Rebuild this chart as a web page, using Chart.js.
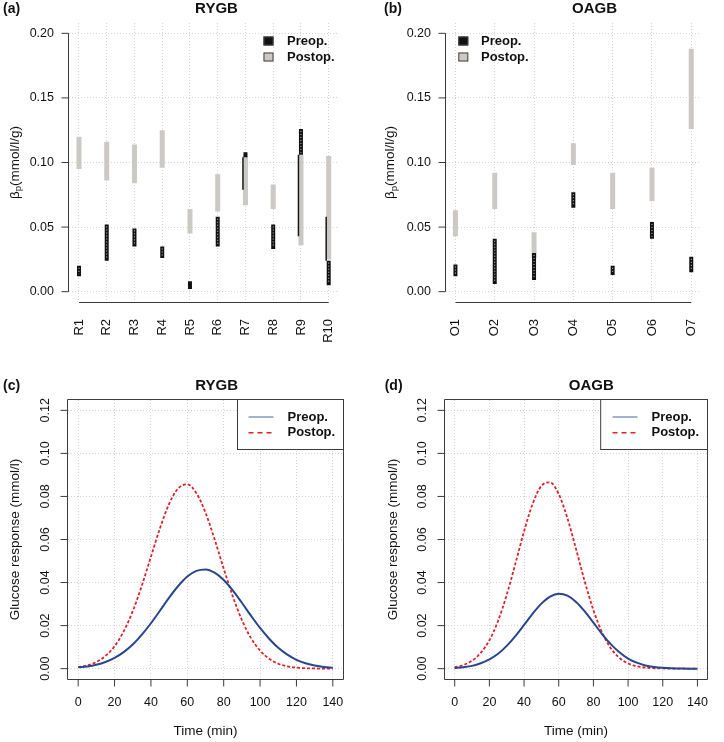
<!DOCTYPE html>
<html lang="en">
<head>
<meta charset="UTF-8">
<title>Beta-p and glucose response: RYGB vs OAGB</title>
<script src="https://cdn.jsdelivr.net/npm/chart.js"></script>
<style>
  body { margin: 0; background: #fff; }
  #wrap { position: relative; width: 724px; height: 742px; }
  #wrap canvas { position: absolute; }
</style>
</head>
<body>
<div id="wrap">
  <canvas id="chartA" width="362" height="370" style="left:0;top:0"></canvas>
  <canvas id="chartB" width="362" height="370" style="left:362px;top:0"></canvas>
  <canvas id="chartC" width="362" height="372" style="left:0;top:370px"></canvas>
  <canvas id="chartD" width="362" height="372" style="left:362px;top:370px"></canvas>
</div>
<script>
// ---- data ----
const rygbPatients = ['R1', 'R2', 'R3', 'R4', 'R5', 'R6', 'R7', 'R8', 'R9', 'R10'];
const oagbPatients = ['O1', 'O2', 'O3', 'O4', 'O5', 'O6', 'O7'];

// beta_p ranges, [low, high] in mmol/l/g
const rygbPreop = [[0.012, 0.020], [0.024, 0.052], [0.035, 0.049], [0.026, 0.035], [0.002, 0.008],
                   [0.035, 0.058], [0.104, 0.108], [0.033, 0.052], [0.106, 0.126], [0.005, 0.024]];
// thin part of the preop range (only a few patients)
const rygbPreopTail = [null, null, null, null, null, null, [0.079, 0.104], null, [0.043, 0.106], [0.024, 0.058]];
const rygbPostop = [[0.095, 0.120], [0.086, 0.116], [0.084, 0.114], [0.096, 0.125], [0.045, 0.064],
                    [0.062, 0.091], [0.067, 0.105], [0.064, 0.083], [0.036, 0.106], [0.025, 0.105]];

const oagbPreop = [[0.012, 0.021], [0.006, 0.041], [0.009, 0.030], [0.065, 0.077], [0.013, 0.020],
                   [0.041, 0.054], [0.015, 0.027]];
const oagbPreopTail = [null, null, null, null, null, null, null];
const oagbPostop = [[0.043, 0.063], [0.064, 0.092], [0.026, 0.046], [0.098, 0.115], [0.064, 0.092],
                    [0.070, 0.096], [0.126, 0.188]];

const betaTicks = [0, 0.05, 0.10, 0.15, 0.20];

// glucose response curves (mmol/l), every 5 min
const timeMin = [0, 5, 10, 15, 20, 25, 30, 35, 40, 45, 50, 55, 60, 65, 70, 75, 80, 85, 90, 95, 100,
                 105, 110, 115, 120, 125, 130, 135, 140];
const rygbGlucPreop = [0.0006, 0.0010, 0.0018, 0.0031, 0.0050, 0.0077, 0.0112, 0.0158, 0.0211, 0.0270,
                       0.0330, 0.0384, 0.0428, 0.0454, 0.0461, 0.0446, 0.0412, 0.0364, 0.0306, 0.0246,
                       0.0189, 0.0139, 0.0097, 0.0065, 0.0041, 0.0025, 0.0015, 0.0008, 0.0004];
const rygbGlucPostop = [0.0007, 0.0015, 0.0031, 0.0059, 0.0104, 0.0173, 0.0267, 0.0386, 0.0520, 0.0653,
                        0.0766, 0.0838, 0.0856, 0.0815, 0.0725, 0.0601, 0.0465, 0.0336, 0.0226, 0.0142,
                        0.0084, 0.0046, 0.0023, 0.0011, 0.0005, 0.0002, 0.0001, 0.0000, 0.0000];
const oagbGlucPreop = [0.0003, 0.0007, 0.0013, 0.0025, 0.0043, 0.0069, 0.0106, 0.0151, 0.0203, 0.0256,
                       0.0302, 0.0335, 0.0348, 0.0339, 0.0310, 0.0266, 0.0214, 0.0161, 0.0114, 0.0076,
                       0.0047, 0.0028, 0.0015, 0.0008, 0.0004, 0.0002, 0.0001, 0.0000, 0.0000];
const oagbGlucPostop = [0.0007, 0.0017, 0.0037, 0.0073, 0.0132, 0.0222, 0.0343, 0.0488, 0.0638, 0.0767,
                        0.0849, 0.0865, 0.0811, 0.0699, 0.0555, 0.0405, 0.0272, 0.0168, 0.0095, 0.0050,
                        0.0024, 0.0011, 0.0005, 0.0002, 0.0001, 0.0000, 0.0000, 0.0000, 0.0000];

const glucTicks = [0, 0.02, 0.04, 0.06, 0.08, 0.10, 0.12];
const timeTicks = [0, 20, 40, 60, 80, 100, 120, 140];

// ---- style ----
const FONT = '"Liberation Sans", Arial, Helvetica, sans-serif';
const GRID = '#d4d4d4';
const AXIS = '#3c3c3c';
const INK = '#111';

Chart.defaults.font.family = FONT;
Chart.defaults.color = INK;
Chart.defaults.animation = false;

// draws the R-like axes, titles, legends
const rStyle = {
    id: 'rStyle',
    beforeDatasetDraw(chart, args) {
        const ds = chart.data.datasets[args.index];
        if (ds.shift) { chart.ctx.save(); chart.ctx.translate(ds.shift, 0); }
    },
    afterDatasetDraw(chart, args) {
        const ctx = chart.ctx;
        const ds = chart.data.datasets[args.index];
        if (ds.shift) ctx.restore();
        if (ds.dotted) {
            ctx.save();
            ctx.strokeStyle = 'rgba(255,255,255,0.8)';
            ctx.lineWidth = 1;
            ctx.setLineDash([1, 2]);
            args.meta.data.forEach(el => {
                const p = el.getProps(['x', 'y', 'base'], true);
                const top = Math.min(p.y, p.base), bot = Math.max(p.y, p.base);
                if (bot - top < 9) return;
                ctx.beginPath();
                ctx.moveTo(p.x, top + 2);
                ctx.lineTo(p.x, bot - 2);
                ctx.stroke();
            });
            ctx.restore();
        }
    },
    afterDraw(chart, args, o) {
        const ctx = chart.ctx, a = chart.chartArea;
        const xs = chart.scales.x, ys = chart.scales.y;
        const yT = ys.ticks.map(t => ys.getPixelForValue(t.value));
        const xT = xs.ticks.map(t => xs.getPixelForValue(t.value));
        const L = Math.round(a.left) - 0.5, B = Math.round(a.bottom) + 0.5;
        const R = Math.round(a.right) + 0.5, T = Math.round(a.top) - 0.5;

        ctx.save();
        ctx.strokeStyle = AXIS;
        ctx.lineWidth = 1;
        ctx.setLineDash([]);
        ctx.beginPath();
        if (o.frame === 'box') {
            ctx.rect(L, T, R - L, B - T);
            xT.forEach(px => { ctx.moveTo(px, B); ctx.lineTo(px, B + 7); });
        } else {
            ctx.moveTo(L, Math.min(...yT)); ctx.lineTo(L, Math.max(...yT));
            ctx.moveTo(Math.min(...xT), B); ctx.lineTo(Math.max(...xT), B);
        }
        yT.forEach(py => { ctx.moveTo(L - 7, py); ctx.lineTo(L, py); });
        ctx.stroke();

        ctx.fillStyle = INK;
        // rotated y tick labels
        if (o.rotY) {
            ctx.font = '12.5px ' + FONT;
            ctx.textAlign = 'center';
            ctx.textBaseline = 'middle';
            ys.ticks.forEach((t, i) => {
                ctx.save();
                ctx.translate(a.left - o.rotY, yT[i]);
                ctx.rotate(-Math.PI / 2);
                ctx.fillText(t.value.toFixed(2), 0, 0);
                ctx.restore();
            });
        }

        // y axis title
        const cy = (Math.min(...yT) + Math.max(...yT)) / 2;
        ctx.save();
        ctx.translate(o.yTitleX, o.yTitleY !== undefined ? o.yTitleY : cy);
        ctx.rotate(-Math.PI / 2);
        ctx.textBaseline = 'middle';
        const f1 = '13.5px ' + FONT, f2 = '9.5px ' + FONT;
        if (o.yTitle === 'beta') {
            ctx.font = f1;
            const wb = ctx.measureText('β').width, wr = ctx.measureText('(mmol/l/g)').width;
            ctx.font = f2;
            const wp = ctx.measureText('p').width;
            let x0 = -(wb + wp + wr) / 2;
            ctx.textAlign = 'left';
            ctx.font = f1; ctx.fillText('β', x0, 0);
            ctx.font = f2; ctx.fillText('p', x0 + wb, 3.5);
            ctx.font = f1; ctx.fillText('(mmol/l/g)', x0 + wb + wp, 0);
        } else {
            ctx.font = f1;
            ctx.textAlign = 'center';
            ctx.fillText(o.yTitle, 0, 0);
        }
        ctx.restore();

        // x axis title
        if (o.xTitle) {
            ctx.font = f1;
            ctx.textAlign = 'center';
            ctx.textBaseline = 'middle';
            ctx.fillText(o.xTitle, (a.left + a.right) / 2, o.xTitleY);
        }

        // panel letter + title
        ctx.font = 'bold 14px ' + FONT;
        ctx.textAlign = 'left';
        ctx.textBaseline = 'middle';
        ctx.fillText(o.letter, o.letterX, o.titleY);
        ctx.font = 'bold 15px ' + FONT;
        ctx.textAlign = 'center';
        ctx.fillText(o.title, o.titleX, o.titleY);

        // legend
        const lg = o.legend;
        const items = chart.data.datasets.filter(d => d.inLegend !== false);
        ctx.font = 'bold 13px ' + FONT;
        ctx.textAlign = 'left';
        ctx.textBaseline = 'middle';
        if (lg.type === 'box') {
            items.forEach((d, i) => {
                const y = lg.y + i * lg.dy;
                ctx.fillStyle = d.backgroundColor;
                ctx.fillRect(lg.x - 5, y - 4.5, 10, 9);
                ctx.strokeStyle = '#444';
                ctx.strokeRect(lg.x - 5 + 0.5, y - 4.5 + 0.5, 9, 8);
                ctx.fillStyle = INK;
                ctx.fillText(d.label, lg.textX, y);
            });
        } else {
            const x0 = R - lg.w, y0 = T;
            ctx.strokeStyle = AXIS;
            ctx.lineWidth = 1;
            ctx.setLineDash([]);
            ctx.fillStyle = '#fff';
            ctx.fillRect(x0, y0, lg.w, lg.h);
            ctx.strokeRect(x0, y0, lg.w, lg.h);
            items.forEach((d, i) => {
                const y = y0 + 17.5 + i * 15.7;
                ctx.strokeStyle = d.borderColor;
                ctx.globalAlpha = d.borderDash ? 1 : 0.55;
                ctx.lineWidth = 1.5;
                ctx.setLineDash(d.borderDash ? [5, 4] : []);
                ctx.beginPath();
                ctx.moveTo(R - 95, y); ctx.lineTo(R - 70, y);
                ctx.stroke();
                ctx.globalAlpha = 1;
                ctx.fillStyle = INK;
                ctx.fillText(d.label, R - 56, y);
            });
        }
        ctx.restore();
    }
};

function gridOpts() {
    return { color: GRID, lineWidth: 1, drawTicks: false, offset: false };
}

function rangeChart(id, cats, preop, tail, postop, yWidth, rightPad, style) {
    const n = cats.length, pad = 0.04 * (n - 1);
    const toPts = arr => arr.map((r, i) => r ? { x: i + 1, y: r } : null).filter(Boolean);
    new Chart(document.getElementById(id), {
        type: 'bar',
        data: {
            datasets: [
                { label: 'Preop.', data: toPts(preop), backgroundColor: '#111111', maxBarThickness: 4, dotted: true },
                { label: 'Preop.', data: toPts(tail), backgroundColor: '#1a1a1a', maxBarThickness: 1.5, shift: -2.5, inLegend: false },
                { label: 'Postop.', data: toPts(postop), backgroundColor: '#ccc8c3', maxBarThickness: 5 }
            ]
        },
        options: {
            responsive: false,
            layout: { padding: { left: 0, top: 23, right: rightPad, bottom: 0 } },
            datasets: { bar: { grouped: false, borderSkipped: false } },
            plugins: { legend: { display: false }, tooltip: { enabled: false }, rStyle: style },
            scales: {
                x: {
                    type: 'linear', min: 1 - pad, max: n + pad, offset: false,
                    afterBuildTicks: s => { s.ticks = cats.map((c, i) => ({ value: i + 1 })); },
                    afterFit: s => { s.height = 68; },
                    ticks: {
                        callback: v => cats[v - 1], autoSkip: false,
                        minRotation: 90, maxRotation: 90, padding: 17,
                        font: { size: 13 }, color: INK
                    },
                    grid: gridOpts(),
                    border: { display: false, dash: [1, 2] }
                },
                y: {
                    min: -0.008, max: 0.208,
                    afterBuildTicks: s => { s.ticks = betaTicks.map(v => ({ value: v })); },
                    afterFit: s => { s.width = yWidth; },
                    ticks: { callback: v => v.toFixed(2), padding: 15, font: { size: 12.5 }, color: INK },
                    grid: gridOpts(),
                    border: { display: false, dash: [1, 2] }
                }
            }
        },
        plugins: [rStyle]
    });
}

function curveChart(id, preop, postop, yWidth, rightPad, style) {
    const pts = arr => timeMin.map((t, i) => ({ x: t, y: arr[i] }));
    new Chart(document.getElementById(id), {
        type: 'line',
        data: {
            datasets: [
                { label: 'Preop.', data: pts(preop), borderColor: '#27468c', borderWidth: 2,
                  pointRadius: 0, cubicInterpolationMode: 'monotone' },
                { label: 'Postop.', data: pts(postop), borderColor: '#e3202a', borderWidth: 1.8,
                  borderDash: [3, 2], pointRadius: 0, cubicInterpolationMode: 'monotone' }
            ]
        },
        options: {
            responsive: false,
            layout: { padding: { left: 0, top: 30, right: rightPad, bottom: 0 } },
            plugins: { legend: { display: false }, tooltip: { enabled: false }, rStyle: style },
            scales: {
                x: {
                    type: 'linear', min: -5.6, max: 145.6,
                    afterBuildTicks: s => { s.ticks = timeTicks.map(v => ({ value: v })); },
                    afterFit: s => { s.height = 63; },
                    ticks: { padding: 16, font: { size: 12.5 }, color: INK, maxRotation: 0 },
                    grid: gridOpts(),
                    border: { display: false, dash: [1, 2] }
                },
                y: {
                    min: -0.0048, max: 0.1248,
                    afterBuildTicks: s => { s.ticks = glucTicks.map(v => ({ value: v })); },
                    afterFit: s => { s.width = yWidth; },
                    ticks: { display: false },
                    grid: gridOpts(),
                    border: { display: false, dash: [1, 2] }
                }
            }
        },
        plugins: [rStyle]
    });
}

rangeChart('chartA', rygbPatients, rygbPreop, rygbPreopTail, rygbPostop, 69, 19, {
    frame: 'L', letter: '(a)', letterX: 3, title: 'RYGB', titleX: 216.5, titleY: 9,
    yTitle: 'beta', yTitleX: 15,
    legend: { type: 'box', x: 268.5, y: 41, dy: 16, textX: 287 }
});
rangeChart('chartB', oagbPatients, oagbPreop, oagbPreopTail, oagbPostop, 84, 4, {
    frame: 'L', letter: '(b)', letterX: 22, title: 'OAGB', titleX: 232.5, titleY: 9,
    yTitle: 'beta', yTitleX: 28.5,
    legend: { type: 'box', x: 101.3, y: 41, dy: 16, textX: 119 }
});
curveChart('chartC', rygbGlucPreop, rygbGlucPostop, 68, 19, {
    frame: 'box', letter: '(c)', letterX: 3, title: 'RYGB', titleX: 216.7, titleY: 15.7,
    rotY: 22, yTitle: 'Glucose response (mmol/l)', yTitleX: 15, xTitle: 'Time (min)', xTitleY: 361.5,
    legend: { type: 'line', w: 106, h: 50 }
});
curveChart('chartD', oagbGlucPreop, oagbGlucPostop, 83, 3.5, {
    frame: 'box', letter: '(d)', letterX: 22.7, title: 'OAGB', titleX: 229.3, titleY: 15.7,
    rotY: 22.5, yTitle: 'Glucose response (mmol/l)', yTitleX: 30.8, xTitle: 'Time (min)', xTitleY: 361.5,
    legend: { type: 'line', w: 106.8, h: 50 }
});
</script>
</body>
</html>
